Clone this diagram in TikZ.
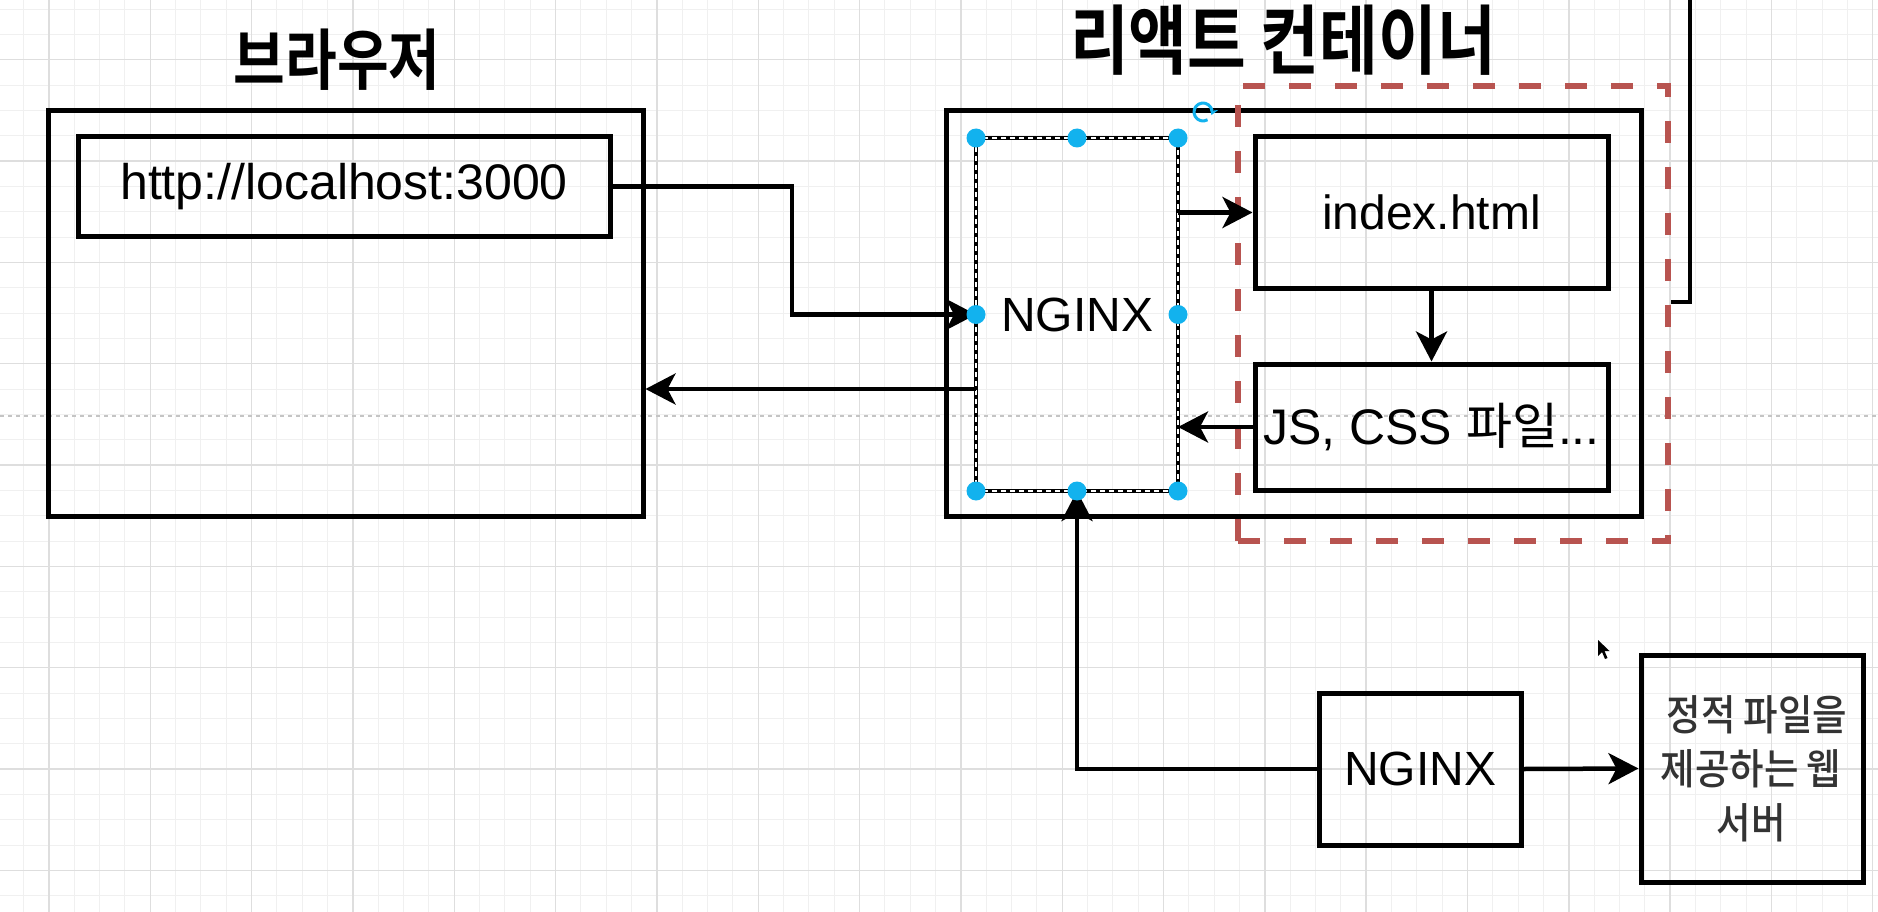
\documentclass[tikz,border=0pt]{standalone}
\usepackage{fontspec}
\usepackage{graphicx}
\setmainfont{Liberation Sans}
\newfontfamily\kr{Noto Sans CJK KR}[BoldFont={Noto Sans CJK KR Bold}]
\newfontfamily\krm{Noto Sans CJK KR Medium}
\usetikzlibrary{arrows.meta}
\definecolor{gmin}{HTML}{F0F0F0}
\definecolor{gmaj}{HTML}{DEDEDE}
\definecolor{selblue}{HTML}{12B2EE}
\definecolor{redd}{HTML}{B85450}
\definecolor{txtgray}{HTML}{333333}
\definecolor{guidegray}{HTML}{C4C4C4}
\tikzset{
  box/.style={draw=black, line width=5pt, inner sep=0pt},
  lbl/.style={font=\fontsize{48}{58}\selectfont},
  lblb/.style={font=\fontsize{50}{60}\selectfont},
  ttl/.style={font=\kr\bfseries\fontsize{#1}{#1}\selectfont},
  arr/.style={line width=4.5pt, -{Stealth[length=30pt,width=31pt,inset=8pt]}},
  plainline/.style={line width=4.5pt},
  minorgrid/.style={gmin, line width=1pt},
  majorgrid/.style={gmaj, line width=1.4pt},
  guide/.style={guidegray, line width=2pt, dash pattern=on 4pt off 4pt},
  reddash/.style={draw=redd, line width=6pt, dash pattern=on 22pt off 24pt, inner sep=0pt},
  seldot/.style={fill=selblue},
}
\begin{document}
\begin{tikzpicture}[x=1pt,y=-1pt]
\useasboundingbox (0,0) rectangle (1878,912);
\fill[white] (0,0) rectangle (1878,912);
% grid
\foreach \i in {-2,...,73} {
  \pgfmathsetmacro\xx{49+25.33*\i}
  \draw[minorgrid] (\xx,0) -- (\xx,912);
}
\foreach \j in {-3,...,34} {
  \pgfmathsetmacro\yy{59.8+25.33*\j}
  \draw[minorgrid] (0,\yy) -- (1878,\yy);
}
\foreach \i in {0,...,18} {
  \pgfmathsetmacro\xx{49+101.32*\i}
  \draw[majorgrid] (\xx,0) -- (\xx,912);
}
\foreach \j in {0,...,8} {
  \pgfmathsetmacro\yy{59.8+101.32*\j}
  \draw[majorgrid] (0,\yy) -- (1878,\yy);
}
\draw[guide] (0,416) -- (1878,416);

% titles
\node[ttl=53] (brT) at (337,60) {\scalebox{1.06}[1.25]{브라우저}};
\node[ttl=57] (ctT) at (1283,40) {\scalebox{1.12}[1.33]{리액트 컨테이너}};

% browser
\node[box, minimum width=595pt, minimum height=405pt] (brows) at (345.5,313.5) {};
\node[box, lblb, minimum width=532pt, minimum height=99pt] (url) at (344,186.5) {http://localhost:3000};

% container
\node[box, minimum width=695pt, minimum height=405pt] (cont) at (1293.5,313.5) {};
\node[reddash, minimum width=430pt, minimum height=455pt] (red) at (1453,313.5) {};
\node[box, lbl, minimum width=353pt, minimum height=151pt] (idx) at (1431.5,212.5) {index.html};
\node[box, lblb, minimum width=353pt, minimum height=126pt] (js) at (1431.5,427) {JS, CSS {\kr 파일}...};
\node[draw=black, line width=4pt, inner sep=0pt, outer sep=0pt, lbl, minimum width=202pt, minimum height=353pt] (ngx) at (1077,314.5) {NGINX};
\draw[white, line width=1.5pt, dash pattern=on 5pt off 4pt] (ngx.north west) rectangle (ngx.south east);

% bottom
\node[box, lbl, minimum width=202pt, minimum height=152pt] (ngx2) at (1420,769) {NGINX};
\node[box, minimum width=222pt, minimum height=227pt] (web) at (1752,768.5) {};
\node[font=\krm\fontsize{37.5}{54}\selectfont, text=txtgray, align=center] (webT) at (1751,769) {\hspace*{12pt}\scalebox{1}[1.12]{정적 파일을}\\\scalebox{1}[1.12]{제공하는 웹}\\\scalebox{1}[1.12]{서버}};

% connectors
\coordinate (bx) at (792,0);
\coordinate (backY) at (0,389);
\coordinate (outY) at (0,302);
\coordinate (upX) at (1690,0);
\coordinate (topEnd) at (1690,-5);
\draw[arr] (url.east) -- (url.east -| bx) |- (ngx.west);
\draw[arr] (ngx.west |- backY) -- (brows.east |- backY);
\draw[arr] (ngx.east |- idx.west) -- (idx.west);
\draw[arr] (idx.south) -- (js.north);
\draw[arr] (js.west) -- (ngx.east |- js.west);
\draw[arr] (ngx2.west) -| (ngx.south);
\draw[arr] (ngx2.east) -- (web.west);
\draw[plainline] (red.east |- outY) -- (upX |- outY) -- (topEnd);

% selection handles
\foreach \a in {north west,north,north east,west,east,south west,south,south east}
  \fill[seldot] (ngx.\a) circle (9.5pt);
\coordinate (rot) at (1203,112);
\draw[selblue, line width=3pt, -{Stealth[length=7pt,width=9pt]}] (rot) ++(60:9) arc[start angle=60, end angle=380, radius=9];

% mouse cursor
\fill[black] (1598,640) -- (1598,656) -- (1602,652) -- (1605,659) -- (1607.5,658) -- (1604.5,651) -- (1609.5,651) -- cycle;
\end{tikzpicture}
\end{document}
